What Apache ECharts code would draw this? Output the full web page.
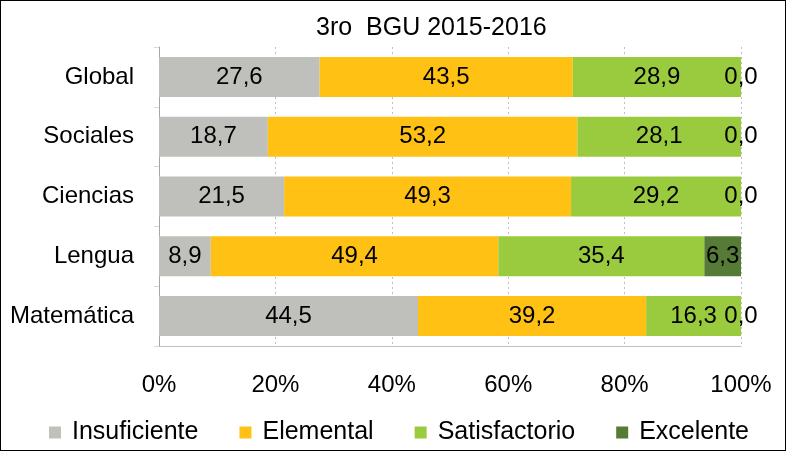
<!DOCTYPE html>
<html>
<head>
<meta charset="utf-8">
<script src="https://cdn.jsdelivr.net/npm/echarts@6/dist/echarts.min.js"></script>
<style>
  html, body { margin: 0; padding: 0; background: #fff; }
  #chart { width: 786px; height: 451px; box-sizing: border-box; border: 1px solid #000; }
</style>
</head>
<body>
<div id="chart"></div>
<script>
const categories = ['Global', 'Sociales', 'Ciencias', 'Lengua', 'Matemática']
const insuficiente = [27.6, 18.7, 21.5, 8.9, 44.5]
const elemental = [43.5, 53.2, 49.3, 49.4, 39.2]
const satisfactorio = [28.9, 28.1, 29.2, 35.4, 16.3]
const excelente = [0.0, 0.0, 0.0, 6.3, 0.0]
const xTicks = [0, 20, 40, 60, 80, 100]

const font = "'Liberation Sans', Arial, sans-serif"
const fmt = (p) => p.value.toFixed(1).replace('.', ',')

function makeSeries(name, data, color) {
  return {
    name: name,
    type: 'bar',
    stack: 'total',
    barWidth: 40,
    data: data,
    itemStyle: { color: color },
    label: {
      show: true,
      position: 'inside',
      formatter: fmt,
      color: '#000',
      fontSize: 24,
      fontFamily: font
    }
  }
}

const chart = echarts.init(document.getElementById('chart'))
chart.setOption({
  animation: false,
  title: {
    text: '3ro  BGU 2015-2016',
    left: 310,
    top: 10,
    textStyle: { fontSize: 25, fontWeight: 'normal', color: '#000', fontFamily: font }
  },
  legend: {
    data: ['Insuficiente', 'Elemental', 'Satisfactorio', 'Excelente'],
    left: 43,
    top: 414,
    itemWidth: 12,
    itemHeight: 12,
    itemGap: 41,
    icon: 'rect',
    textStyle: { fontSize: 25, color: '#000', fontFamily: font, padding: [0, 0, 0, 6] }
  },
  grid: { left: 158, right: 44, top: 46, bottom: 104 },
  xAxis: {
    type: 'value',
    min: xTicks[0],
    max: xTicks[xTicks.length - 1],
    interval: 20,
    axisLine: { show: true, lineStyle: { color: '#bfbfbf' } },
    axisTick: { show: false },
    axisLabel: {
      formatter: '{value}%',
      fontSize: 24,
      color: '#000',
      fontFamily: font,
      margin: 27
    },
    splitLine: { show: true, lineStyle: { color: '#bfbfbf', type: [2, 3] } }
  },
  yAxis: {
    type: 'category',
    inverse: true,
    data: categories,
    axisLine: { show: true, lineStyle: { color: '#a6a6a6' } },
    axisTick: { show: true, length: 5, lineStyle: { color: '#d9d9d9' } },
    axisLabel: { fontSize: 24, color: '#000', fontFamily: font, margin: 25 }
  },
  series: [
    makeSeries('Insuficiente', insuficiente, '#bfbfbb'),
    makeSeries('Elemental', elemental, '#ffc114'),
    makeSeries('Satisfactorio', satisfactorio, '#9acb3e'),
    makeSeries('Excelente', excelente, '#557b37')
  ]
})
</script>
</body>
</html>
